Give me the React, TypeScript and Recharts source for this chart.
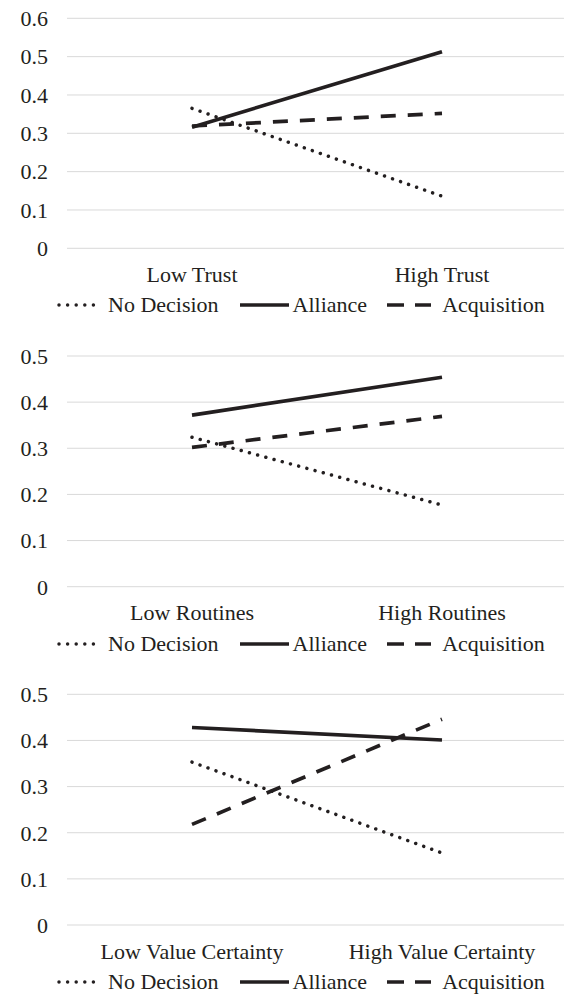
import React from 'react';
import { LineChart, Line, XAxis, YAxis, CartesianGrid, Legend } from 'recharts';

const trustCategories = ['Low Trust', 'High Trust'];
const routinesCategories = ['Low Routines', 'High Routines'];
const certaintyCategories = ['Low Value Certainty', 'High Value Certainty'];

const trustNoDecision = [0.365, 0.136];
const trustAlliance = [0.316, 0.513];
const trustAcquisition = [0.319, 0.352];

const routinesNoDecision = [0.324, 0.177];
const routinesAlliance = [0.372, 0.454];
const routinesAcquisition = [0.302, 0.369];

const certaintyNoDecision = [0.353, 0.156];
const certaintyAlliance = [0.428, 0.401];
const certaintyAcquisition = [0.218, 0.446];

const seriesNames = ['No Decision', 'Alliance', 'Acquisition'];

const trustTicks = [0, 0.1, 0.2, 0.3, 0.4, 0.5, 0.6];
const otherTicks = [0, 0.1, 0.2, 0.3, 0.4, 0.5];

const INK = '#231f20';
const FONT = 'Liberation Serif, Tinos, DejaVu Serif, serif';
const FS = 22;

function buildData(cats: string[], nd: number[], al: number[], aq: number[]) {
  return cats.map((c, i) => ({ category: c, noDecision: nd[i], alliance: al[i], acquisition: aq[i] }));
}

const DOT_DASH = '0.001 8.5';
const DASH = '15 12';

function LegendContent() {
  const textStyle: React.CSSProperties = { fontFamily: FONT, fontSize: FS, color: INK, lineHeight: '34px', whiteSpace: 'nowrap' };
  return (
    <div style={{ display: 'flex', alignItems: 'center', height: 34, paddingLeft: 57 }}>
      <svg width={46} height={10} style={{ display: 'block' }}>
        <line x1={2} y1={5} x2={45} y2={5} stroke={INK} strokeWidth={3.5} strokeLinecap="round" strokeDasharray="0.001 8.6" />
      </svg>
      <span style={{ ...textStyle, marginLeft: 5 }}>{seriesNames[0]}</span>
      <svg width={49} height={10} style={{ display: 'block', marginLeft: 21 }}>
        <line x1={0} y1={5} x2={49} y2={5} stroke={INK} strokeWidth={3.7} />
      </svg>
      <span style={{ ...textStyle, marginLeft: 4 }}>{seriesNames[1]}</span>
      <svg width={44} height={10} style={{ display: 'block', marginLeft: 20 }}>
        <line x1={0} y1={5} x2={44} y2={5} stroke={INK} strokeWidth={3.7} strokeDasharray="17 11" />
      </svg>
      <span style={{ ...textStyle, marginLeft: 11 }}>{seriesNames[2]}</span>
    </div>
  );
}

type PanelProps = {
  top: number;
  plotTop: number;
  plotBottom: number;
  data: any[];
  ticks: number[];
};

function Panel({ top, plotTop, plotBottom, data, ticks }: PanelProps) {
  const xAxisH = 40;
  const legendH = 34;
  const bottomMargin = 4;
  const height = plotBottom - top + xAxisH + legendH + bottomMargin;
  return (
    <div style={{ position: 'absolute', left: 0, top }}>
      <LineChart
        width={564}
        height={height}
        data={data}
        margin={{ top: plotTop - top, right: 0, left: 0, bottom: bottomMargin }}
        style={{ fontFamily: FONT }}
      >
        <CartesianGrid vertical={false} stroke="#d9d9d9" strokeWidth={1} />
        <XAxis
          dataKey="category"
          interval={0}
          axisLine={false}
          tickLine={false}
          tickMargin={12}
          height={xAxisH}
          padding={{ left: 125, right: 122 }}
          tick={{ fontFamily: FONT, fontSize: FS, fill: INK }}
        />
        <YAxis
          width={67}
          domain={[0, ticks[ticks.length - 1]]}
          ticks={ticks}
          interval={0}
          axisLine={false}
          tickLine={false}
          tickMargin={13}
          tick={{ fontFamily: FONT, fontSize: FS, fill: INK }}
        />
        <Legend verticalAlign="bottom" height={legendH} content={() => <LegendContent />} />
        <Line
          type="linear"
          dataKey="noDecision"
          name={seriesNames[0]}
          stroke={INK}
          strokeWidth={3.5}
          strokeLinecap="round"
          strokeDasharray={DOT_DASH}
          dot={false}
          activeDot={false}
          isAnimationActive={false}
        />
        <Line
          type="linear"
          dataKey="alliance"
          name={seriesNames[1]}
          stroke={INK}
          strokeWidth={3.7}
          dot={false}
          activeDot={false}
          isAnimationActive={false}
        />
        <Line
          type="linear"
          dataKey="acquisition"
          name={seriesNames[2]}
          stroke={INK}
          strokeWidth={3.7}
          strokeDasharray={DASH}
          dot={false}
          activeDot={false}
          isAnimationActive={false}
        />
      </LineChart>
    </div>
  );
}

export default function App() {
  const trustData = buildData(trustCategories, trustNoDecision, trustAlliance, trustAcquisition);
  const routinesData = buildData(routinesCategories, routinesNoDecision, routinesAlliance, routinesAcquisition);
  const certaintyData = buildData(certaintyCategories, certaintyNoDecision, certaintyAlliance, certaintyAcquisition);
  return (
    <div style={{ position: 'absolute', left: 0, top: 0, width: 564, height: 1001, background: '#ffffff', overflow: 'hidden', fontFamily: FONT }}>
      <Panel top={0} plotTop={18.3} plotBottom={248.3} data={trustData} ticks={trustTicks} />
      <Panel top={330} plotTop={356} plotBottom={586.7} data={routinesData} ticks={otherTicks} />
      <Panel top={660} plotTop={694.3} plotBottom={925} data={certaintyData} ticks={otherTicks} />
    </div>
  );
}
